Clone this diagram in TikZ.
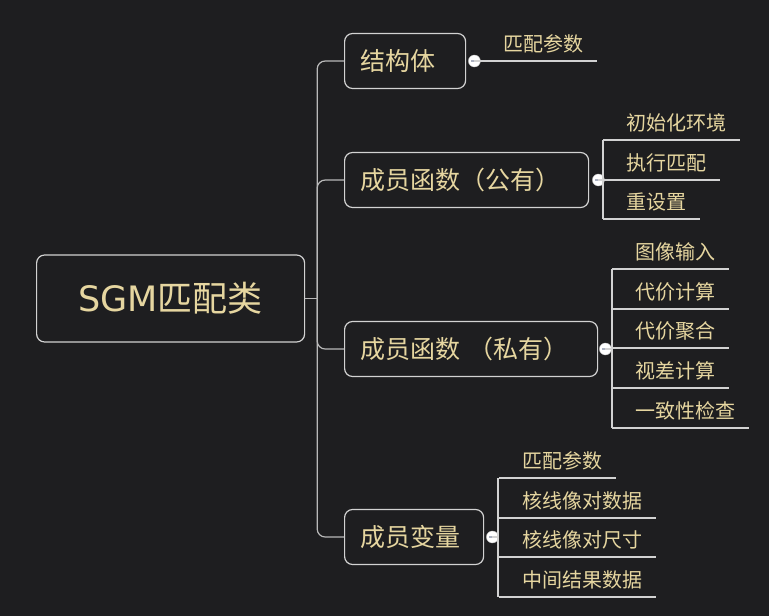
\documentclass[tikz,border=0pt]{standalone}
\usepackage{fontspec}
\setmainfont{Noto Sans CJK SC}
\newfontfamily\latinfont{DejaVu Sans}
\usetikzlibrary{positioning, calc}
\definecolor{bg}{RGB}{30,30,32}
\definecolor{ink}{RGB}{230,214,160}
\definecolor{boxgray}{RGB}{210,210,210}
\definecolor{trunkgray}{RGB}{185,185,185}
\definecolor{minusgray}{RGB}{170,176,192}
\tikzset{
topic/.style={draw=boxgray, line width=1.2pt, rounded corners=8pt, text=ink, anchor=west, inner ysep=0pt}, % boxes of the map
root/.style={topic, minimum width=268pt, minimum height=87pt, font=\fontsize{35}{40}\selectfont},
branch/.style={topic, minimum height=55pt, inner xsep=16pt, align=left, font=\fontsize{25}{30}\selectfont},
link/.style={draw=trunkgray, line width=1.2pt, rounded corners=8pt}, % root to branch
uline/.style={draw=boxgray, line width=1.2pt},
knob/.style={circle, fill=white, draw=gray!50, inner sep=0pt, minimum size=12pt,
  path picture={\draw[minusgray, line width=1.4pt] ([xshift=-3pt]path picture bounding box.center) -- ([xshift=3pt]path picture bounding box.center);}},
leaf/.style={text=ink, inner sep=0pt, anchor=base west, font=\fontsize{20}{24}\selectfont,
  append after command={([xshift=-23pt,yshift=-10pt]\tikzlastnode.base west) edge[uline] ([xshift=14pt,yshift=-10pt]\tikzlastnode.base east)}},
}

\begin{document}
\begin{tikzpicture}[x=1pt, y=-1pt]
    \fill[bg] (0,0) rectangle (769,616);
    \useasboundingbox (0,0) rectangle (769,616);

    \node[root] (sgm) at (36,298.5) {{\latinfont SGM}匹配类};
    \coordinate[right=12pt of sgm.east] (hub);

    \node[branch, text width=89pt] (jgt) at (344,61) {结构体};
    \node[branch, text width=212pt] (gy) at (344,180) {成员函数（公有）};
    \node[branch, text width=221pt] (sy) at (344,349) {成员函数 （私有）};
    \node[branch, text width=107pt] (bl) at (344,537) {成员变量};

    \draw[link] (sgm.east) -- (hub);
    \draw[link] (hub) |- (jgt.west);
    \draw[link] (hub) |- (gy.west);
    \draw[link] (hub) |- (sy.west);
    \draw[link] (hub) |- (bl.west);

    \node[knob, right=2pt of jgt] (k1) {};
    \node[knob, right=3pt of gy] (k2) {};
    \node[knob, right=1pt of sy] (k3) {};
    \node[knob, right=2pt of bl] (k4) {};

    % leaves of 结构体
    \node[leaf] (jgt1) at (503,51) {匹配参数};
    \draw[uline] (k1.center) -- ++(7,0);

    % leaves of 成员函数（公有）
    \node[leaf] (gy1) at (626,130) {初始化环境};
    \node[leaf] (gy2) at (626,170) {执行匹配};
    \node[leaf] (gy3) at (626,209) {重设置};
    \draw[uline] (k2.center) -- ++(6,0);
    \draw[uline] ([xshift=-23pt,yshift=-10pt]gy1.base west) -- ([xshift=-23pt,yshift=-10pt]gy3.base west);

    % leaves of 成员函数 （私有）
    \node[leaf] (sy1) at (635,259) {图像输入};
    \node[leaf] (sy2) at (635,299) {代价计算};
    \node[leaf] (sy3) at (635,338) {代价聚合};
    \node[leaf] (sy4) at (635,378) {视差计算};
    \node[leaf] (sy5) at (635,418) {一致性检查};
    \draw[uline] (k3.center) -- ++(8,0);
    \draw[uline] ([xshift=-23pt,yshift=-10pt]sy1.base west) -- ([xshift=-23pt,yshift=-10pt]sy5.base west);

    % leaves of 成员变量
    \node[leaf] (bl1) at (522,468) {匹配参数};
    \node[leaf] (bl2) at (522,508) {核线像对数据};
    \node[leaf] (bl3) at (522,547) {核线像对尺寸};
    \node[leaf] (bl4) at (522,587) {中间结果数据};
    \draw[uline] (k4.center) -- ++(7,0);
    \draw[uline] ([xshift=-24pt,yshift=-10pt]bl1.base west) -- ([xshift=-24pt,yshift=-10pt]bl4.base west);
\end{tikzpicture}
\end{document}
